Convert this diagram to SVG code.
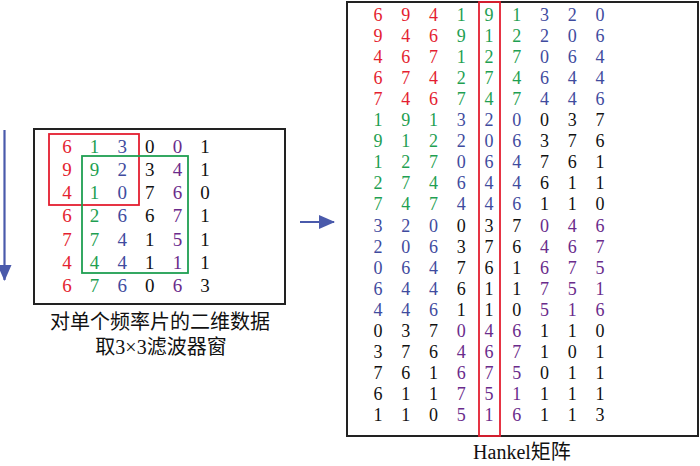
<svg xmlns="http://www.w3.org/2000/svg" width="700" height="466" viewBox="0 0 700 466">
<style>
text{font-family:"Liberation Serif","Noto Sans CJK SC",serif;}
.d{font-size:19px;text-anchor:middle;}
.h{font-size:18px;text-anchor:middle;}
.lbl{font-size:20px;text-anchor:middle;fill:#111;}
.r{fill:#e41e30;}.g{fill:#1f9f52;}.b{fill:#3f4b9e;}.k{fill:#111;}.p{fill:#6a2b8b;}
.box{fill:none;stroke:#222;stroke-width:2;}
.arr{stroke:#4a5aab;stroke-width:2.2;fill:none;}
</style>
<defs>
<marker id="ah" markerWidth="10" markerHeight="10" refX="8" refY="5" orient="auto" markerUnits="userSpaceOnUse" viewBox="0 0 10 10">
<path d="M0,0 L10,5 L0,10 Z" fill="#4a5aab"/>
</marker>
<marker id="ah2" markerWidth="16" markerHeight="14" refX="15" refY="7" orient="auto" markerUnits="userSpaceOnUse" viewBox="0 0 16 14">
<path d="M0,0 L16,7 L0,14 Z" fill="#4a5aab"/>
</marker>
</defs>
<g id="connectors">
<line class="arr" x1="4.5" y1="130" x2="4.5" y2="280" marker-end="url(#ah2)"/>
<line class="arr" x1="300" y1="222" x2="334" y2="222" marker-end="url(#ah2)"/>
</g>
<g id="left-matrix">
<rect class="box" x="34" y="129" width="251" height="175"/>
<g class="d">
<text x="67" y="152.5" class="r">6</text><text x="94.6" y="152.5" class="g">1</text><text x="122.2" y="152.5" class="b">3</text><text x="149.8" y="152.5" class="k">0</text><text x="177.4" y="152.5" class="p">0</text><text x="205" y="152.5" class="k">1</text>
<text x="67" y="175.8" class="r">9</text><text x="94.6" y="175.8" class="g">9</text><text x="122.2" y="175.8" class="b">2</text><text x="149.8" y="175.8" class="k">3</text><text x="177.4" y="175.8" class="p">4</text><text x="205" y="175.8" class="k">1</text>
<text x="67" y="199.1" class="r">4</text><text x="94.6" y="199.1" class="g">1</text><text x="122.2" y="199.1" class="b">0</text><text x="149.8" y="199.1" class="k">7</text><text x="177.4" y="199.1" class="p">6</text><text x="205" y="199.1" class="k">0</text>
<text x="67" y="222.4" class="r">6</text><text x="94.6" y="222.4" class="g">2</text><text x="122.2" y="222.4" class="b">6</text><text x="149.8" y="222.4" class="k">6</text><text x="177.4" y="222.4" class="p">7</text><text x="205" y="222.4" class="k">1</text>
<text x="67" y="245.7" class="r">7</text><text x="94.6" y="245.7" class="g">7</text><text x="122.2" y="245.7" class="b">4</text><text x="149.8" y="245.7" class="k">1</text><text x="177.4" y="245.7" class="p">5</text><text x="205" y="245.7" class="k">1</text>
<text x="67" y="269" class="r">4</text><text x="94.6" y="269" class="g">4</text><text x="122.2" y="269" class="b">4</text><text x="149.8" y="269" class="k">1</text><text x="177.4" y="269" class="p">1</text><text x="205" y="269" class="k">1</text>
<text x="67" y="292.3" class="r">6</text><text x="94.6" y="292.3" class="g">7</text><text x="122.2" y="292.3" class="b">6</text><text x="149.8" y="292.3" class="k">0</text><text x="177.4" y="292.3" class="p">6</text><text x="205" y="292.3" class="k">3</text>
</g>
<rect x="49" y="134" width="90" height="71" fill="none" stroke="#e41e30" stroke-width="1.8"/>
<rect x="82" y="156" width="106" height="117" fill="none" stroke="#1f9f52" stroke-width="1.8"/>
</g>
<g id="left-label">
<text class="lbl" x="160" y="329">对单个频率片的二维数据</text>
<text class="lbl" x="161" y="354">取3×3滤波器窗</text>
</g>
<g id="hankel-matrix">
<rect class="box" x="347" y="2" width="351" height="434"/>
<rect x="479" y="2" width="21" height="434" fill="none" stroke="#e41e30" stroke-width="1.8"/>
<g class="h">
<text y="21"><tspan x="378" class="r">6</tspan><tspan x="405.75" class="r">9</tspan><tspan x="433.5" class="r">4</tspan><tspan x="461.25" class="g">1</tspan><tspan x="489" class="g">9</tspan><tspan x="516.75" class="g">1</tspan><tspan x="544.5" class="b">3</tspan><tspan x="572.25" class="b">2</tspan><tspan x="600" class="b">0</tspan></text>
<text y="42.05"><tspan x="378" class="r">9</tspan><tspan x="405.75" class="r">4</tspan><tspan x="433.5" class="r">6</tspan><tspan x="461.25" class="g">9</tspan><tspan x="489" class="g">1</tspan><tspan x="516.75" class="g">2</tspan><tspan x="544.5" class="b">2</tspan><tspan x="572.25" class="b">0</tspan><tspan x="600" class="b">6</tspan></text>
<text y="63.1"><tspan x="378" class="r">4</tspan><tspan x="405.75" class="r">6</tspan><tspan x="433.5" class="r">7</tspan><tspan x="461.25" class="g">1</tspan><tspan x="489" class="g">2</tspan><tspan x="516.75" class="g">7</tspan><tspan x="544.5" class="b">0</tspan><tspan x="572.25" class="b">6</tspan><tspan x="600" class="b">4</tspan></text>
<text y="84.15"><tspan x="378" class="r">6</tspan><tspan x="405.75" class="r">7</tspan><tspan x="433.5" class="r">4</tspan><tspan x="461.25" class="g">2</tspan><tspan x="489" class="g">7</tspan><tspan x="516.75" class="g">4</tspan><tspan x="544.5" class="b">6</tspan><tspan x="572.25" class="b">4</tspan><tspan x="600" class="b">4</tspan></text>
<text y="105.2"><tspan x="378" class="r">7</tspan><tspan x="405.75" class="r">4</tspan><tspan x="433.5" class="r">6</tspan><tspan x="461.25" class="g">7</tspan><tspan x="489" class="g">4</tspan><tspan x="516.75" class="g">7</tspan><tspan x="544.5" class="b">4</tspan><tspan x="572.25" class="b">4</tspan><tspan x="600" class="b">6</tspan></text>
<text y="126.25"><tspan x="378" class="g">1</tspan><tspan x="405.75" class="g">9</tspan><tspan x="433.5" class="g">1</tspan><tspan x="461.25" class="b">3</tspan><tspan x="489" class="b">2</tspan><tspan x="516.75" class="b">0</tspan><tspan x="544.5" class="k">0</tspan><tspan x="572.25" class="k">3</tspan><tspan x="600" class="k">7</tspan></text>
<text y="147.3"><tspan x="378" class="g">9</tspan><tspan x="405.75" class="g">1</tspan><tspan x="433.5" class="g">2</tspan><tspan x="461.25" class="b">2</tspan><tspan x="489" class="b">0</tspan><tspan x="516.75" class="b">6</tspan><tspan x="544.5" class="k">3</tspan><tspan x="572.25" class="k">7</tspan><tspan x="600" class="k">6</tspan></text>
<text y="168.35"><tspan x="378" class="g">1</tspan><tspan x="405.75" class="g">2</tspan><tspan x="433.5" class="g">7</tspan><tspan x="461.25" class="b">0</tspan><tspan x="489" class="b">6</tspan><tspan x="516.75" class="b">4</tspan><tspan x="544.5" class="k">7</tspan><tspan x="572.25" class="k">6</tspan><tspan x="600" class="k">1</tspan></text>
<text y="189.4"><tspan x="378" class="g">2</tspan><tspan x="405.75" class="g">7</tspan><tspan x="433.5" class="g">4</tspan><tspan x="461.25" class="b">6</tspan><tspan x="489" class="b">4</tspan><tspan x="516.75" class="b">4</tspan><tspan x="544.5" class="k">6</tspan><tspan x="572.25" class="k">1</tspan><tspan x="600" class="k">1</tspan></text>
<text y="210.45"><tspan x="378" class="g">7</tspan><tspan x="405.75" class="g">4</tspan><tspan x="433.5" class="g">7</tspan><tspan x="461.25" class="b">4</tspan><tspan x="489" class="b">4</tspan><tspan x="516.75" class="b">6</tspan><tspan x="544.5" class="k">1</tspan><tspan x="572.25" class="k">1</tspan><tspan x="600" class="k">0</tspan></text>
<text y="231.5"><tspan x="378" class="b">3</tspan><tspan x="405.75" class="b">2</tspan><tspan x="433.5" class="b">0</tspan><tspan x="461.25" class="k">0</tspan><tspan x="489" class="k">3</tspan><tspan x="516.75" class="k">7</tspan><tspan x="544.5" class="p">0</tspan><tspan x="572.25" class="p">4</tspan><tspan x="600" class="p">6</tspan></text>
<text y="252.55"><tspan x="378" class="b">2</tspan><tspan x="405.75" class="b">0</tspan><tspan x="433.5" class="b">6</tspan><tspan x="461.25" class="k">3</tspan><tspan x="489" class="k">7</tspan><tspan x="516.75" class="k">6</tspan><tspan x="544.5" class="p">4</tspan><tspan x="572.25" class="p">6</tspan><tspan x="600" class="p">7</tspan></text>
<text y="273.6"><tspan x="378" class="b">0</tspan><tspan x="405.75" class="b">6</tspan><tspan x="433.5" class="b">4</tspan><tspan x="461.25" class="k">7</tspan><tspan x="489" class="k">6</tspan><tspan x="516.75" class="k">1</tspan><tspan x="544.5" class="p">6</tspan><tspan x="572.25" class="p">7</tspan><tspan x="600" class="p">5</tspan></text>
<text y="294.65"><tspan x="378" class="b">6</tspan><tspan x="405.75" class="b">4</tspan><tspan x="433.5" class="b">4</tspan><tspan x="461.25" class="k">6</tspan><tspan x="489" class="k">1</tspan><tspan x="516.75" class="k">1</tspan><tspan x="544.5" class="p">7</tspan><tspan x="572.25" class="p">5</tspan><tspan x="600" class="p">1</tspan></text>
<text y="315.7"><tspan x="378" class="b">4</tspan><tspan x="405.75" class="b">4</tspan><tspan x="433.5" class="b">6</tspan><tspan x="461.25" class="k">1</tspan><tspan x="489" class="k">1</tspan><tspan x="516.75" class="k">0</tspan><tspan x="544.5" class="p">5</tspan><tspan x="572.25" class="p">1</tspan><tspan x="600" class="p">6</tspan></text>
<text y="336.75"><tspan x="378" class="k">0</tspan><tspan x="405.75" class="k">3</tspan><tspan x="433.5" class="k">7</tspan><tspan x="461.25" class="p">0</tspan><tspan x="489" class="p">4</tspan><tspan x="516.75" class="p">6</tspan><tspan x="544.5" class="k">1</tspan><tspan x="572.25" class="k">1</tspan><tspan x="600" class="k">0</tspan></text>
<text y="357.8"><tspan x="378" class="k">3</tspan><tspan x="405.75" class="k">7</tspan><tspan x="433.5" class="k">6</tspan><tspan x="461.25" class="p">4</tspan><tspan x="489" class="p">6</tspan><tspan x="516.75" class="p">7</tspan><tspan x="544.5" class="k">1</tspan><tspan x="572.25" class="k">0</tspan><tspan x="600" class="k">1</tspan></text>
<text y="378.85"><tspan x="378" class="k">7</tspan><tspan x="405.75" class="k">6</tspan><tspan x="433.5" class="k">1</tspan><tspan x="461.25" class="p">6</tspan><tspan x="489" class="p">7</tspan><tspan x="516.75" class="p">5</tspan><tspan x="544.5" class="k">0</tspan><tspan x="572.25" class="k">1</tspan><tspan x="600" class="k">1</tspan></text>
<text y="399.9"><tspan x="378" class="k">6</tspan><tspan x="405.75" class="k">1</tspan><tspan x="433.5" class="k">1</tspan><tspan x="461.25" class="p">7</tspan><tspan x="489" class="p">5</tspan><tspan x="516.75" class="p">1</tspan><tspan x="544.5" class="k">1</tspan><tspan x="572.25" class="k">1</tspan><tspan x="600" class="k">1</tspan></text>
<text y="420.95"><tspan x="378" class="k">1</tspan><tspan x="405.75" class="k">1</tspan><tspan x="433.5" class="k">0</tspan><tspan x="461.25" class="p">5</tspan><tspan x="489" class="p">1</tspan><tspan x="516.75" class="p">6</tspan><tspan x="544.5" class="k">1</tspan><tspan x="572.25" class="k">1</tspan><tspan x="600" class="k">3</tspan></text>
</g>
</g>
<g id="hankel-label">
<text class="lbl" x="522" y="459">Hankel矩阵</text>
</g>
</svg>
